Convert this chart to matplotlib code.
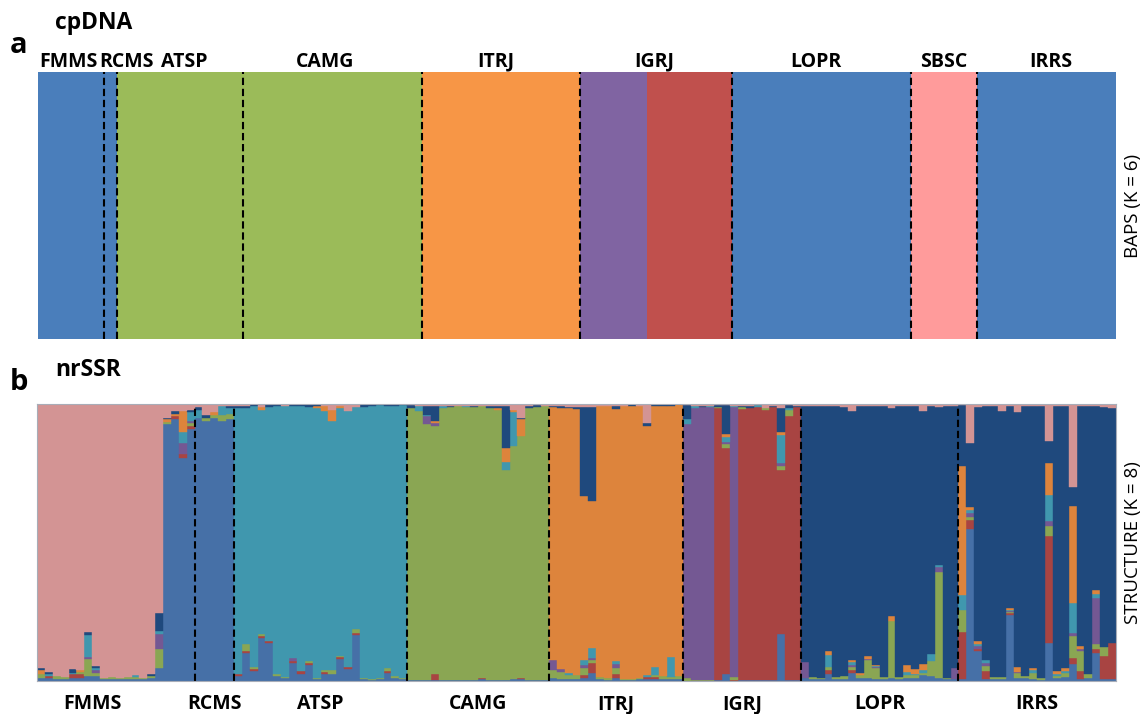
import numpy as np
import matplotlib.pyplot as plt

plt.rcParams['font.family'] = ['Open Sans', 'DejaVu Sans']

# ---------------- panel a: cpDNA, BAPS (K = 6) ----------------
a_pops = ['FMMS', 'RCMS', 'ATSP', 'CAMG', 'ITRJ', 'IGRJ', 'LOPR', 'SBSC', 'IRRS']
a_sizes = [10, 2, 19, 27, 24, 23, 27, 10, 21]
# runs of individuals sharing one BAPS group, left to right
a_runs = [(10, 'blue'), (2, 'blue'), (19, 'green'), (27, 'green'), (24, 'orange'),
          (10, 'purple'), (13, 'red'), (27, 'blue'), (10, 'pink'), (21, 'blue')]
a_colors = {'blue': '#4A7EBB', 'green': '#9BBB59', 'orange': '#F79646',
            'purple': '#8064A2', 'red': '#C0504D', 'pink': '#FF9B9B'}

# ---------------- panel b: nrSSR, STRUCTURE (K = 8) ----------------
# cluster keys in stacking order (bottom -> top)
order = ['b', 'r', 'g', 'p', 't', 'o', 'n', 'k']
b_colors = {'b': '#4670A7', 'r': '#A84442', 'g': '#8AA653', 'p': '#745893',
            't': '#4097AE', 'o': '#DD843C', 'n': '#1F497D', 'k': '#D39494'}

b_pops = ['FMMS', 'RCMS', 'ATSP', 'CAMG', 'ITRJ', 'IGRJ', 'LOPR', 'IRRS']
# each individual: (main cluster, minor memberships); main gets the rest
FMMS = [
    ('k', {'b': .012, 'g': .012, 'o': .014, 'n': .008}),
    ('k', {'b': .01, 'r': .008, 't': .006, 'n': .01}),
    ('k', {'b': .008, 'g': .01}),
    ('k', {'b': .008, 'g': .008}),
    ('k', {'b': .01, 'r': .014, 't': .006, 'n': .014}),
    ('k', {'b': .012, 'r': .014, 'g': .006, 'o': .008}),
    ('k', {'b': .018, 'g': .06, 'p': .008, 't': .08, 'n': .01}),
    ('k', {'b': .018, 'g': .01, 'p': .012, 't': .006, 'n': .008}),
    ('k', {'b': .006, 'g': .006}),
    ('k', {'b': .006, 'g': .008}),
    ('k', {'b': .006, 'g': .006}),
    ('k', {'b': .008, 'g': .008}),
    ('k', {'b': .006, 'g': .01, 't': .004}),
    ('k', {'b': .006, 'g': .006}),
    ('k', {'b': .01, 'g': .008, 'n': .006}),
    ('k', {'b': .048, 'g': .068, 'p': .054, 't': .012, 'n': .062}),
    ('b', {'g': .008, 'o': .008, 'n': .006, 'k': .05}),
    ('b', {'r': .008, 'o': .01, 'n': .01, 'k': .025}),
    ('b', {'r': .015, 'p': .04, 't': .04, 'o': .075, 'k': .025}),
    ('b', {'r': .012, 'g': .01, 'p': .01, 't': .03, 'n': .01, 'k': .02}),
]
RCMS = [
    ('b', {'n': .008, 't': .03, 'k': .012}),
    ('b', {'g': .01, 'n': .012, 'k': .04}),
    ('b', {'g': .012, 'o': .01, 'k': .03}),
    ('b', {'g': .025, 't': .03, 'k': .008}),
    ('b', {'g': .02, 't': .02, 'n': .01, 'k': .006}),
]
ATSP = [
    ('t', {'b': .018, 'r': .006, 'n': .008, 'k': .006}),
    ('t', {'b': .10, 'r': .008, 'g': .024, 'n': .006, 'k': .008}),
    ('t', {'b': .036, 'r': .006, 'g': .008, 'n': .006}),
    ('t', {'b': .155, 'r': .006, 'g': .01, 'o': .008, 'k': .012}),
    ('t', {'b': .138, 'r': .008, 'n': .012}),
    ('t', {'b': .018, 'g': .008, 'n': .008}),
    ('t', {'b': .01, 'g': .006, 'k': .006}),
    ('t', {'b': .066, 'r': .006, 'p': .01, 'n': .006}),
    ('t', {'b': .026, 'r': .01, 'n': .006}),
    ('t', {'b': .058, 'r': .006, 'g': .008, 'n': .01}),
    ('t', {'b': .006, 'g': .004, 'o': .01, 'n': .006}),
    ('t', {'b': .025, 'r': .008, 'g': .006, 'o': .02, 'k': .006}),
    ('t', {'b': .025, 'g': .015, 'o': .04, 'k': .02}),
    ('t', {'b': .08, 'r': .005, 'g': .006, 'o': .008, 'k': .006}),
    ('t', {'b': .042, 'r': .008, 'k': .025}),
    ('t', {'b': .166, 'r': .008, 'g': .012, 'k': .012}),
    ('t', {'b': .006, 'g': .006, 'n': .012}),
    ('t', {'b': .004, 'g': .004, 'n': .006}),
    ('t', {'b': .006, 'g': .004, 'n': .004}),
    ('t', {'b': .03, 'r': .006, 'g': .01, 'n': .006}),
    ('t', {'b': .012, 'g': .006, 'n': .006}),
    ('t', {'b': .008, 'g': .004, 'n': .004}),
]
CAMG = [
    ('g', {'b': .004, 'n': .012, 'k': .004}),
    ('g', {'b': .004, 't': .02, 'k': .006}),
    ('g', {'b': .004, 'p': .03, 't': .005, 'n': .03, 'k': .008}),
    ('g', {'b': .004, 'r': .02, 'p': .012, 'o': .008, 'n': .055, 'k': .006}),
    ('g', {'b': .004, 't': .006, 'k': .008}),
    ('g', {'b': .004, 'n': .006, 'k': .006}),
    ('g', {'b': .004, 'k': .008}),
    ('g', {'b': .004, 't': .004, 'k': .006}),
    ('g', {'b': .004, 'n': .006, 'k': .006}),
    ('g', {'b': .006, 'r': .004, 'k': .006}),
    ('g', {'b': .004, 'n': .01, 'k': .006}),
    ('g', {'b': .004, 'o': .006, 'n': .008, 'k': .006}),
    ('g', {'b': .004, 't': .03, 'o': .05, 'n': .152, 'k': .008}),
    ('g', {'b': .006, 't': .12, 'o': .01, 'k': .02}),
    ('g', {'b': .006, 'r': .006, 'o': .06, 'n': .006, 'k': .05}),
    ('g', {'b': .004, 'n': .008, 'k': .006}),
    ('g', {'b': .004, 'n': .006, 'k': .004}),
    ('g', {'b': .004, 'k': .006}),
]
ITRJ = [
    ('o', {'b': .01, 'g': .03, 'p': .036, 'n': .006, 'k': .006}),
    ('o', {'b': .008, 'g': .025, 'p': .012, 'n': .008, 'k': .006}),
    ('o', {'b': .008, 'g': .012, 't': .01, 'n': .006, 'k': .01}),
    ('o', {'b': .008, 'g': .012, 'n': .006, 'k': .012}),
    ('o', {'b': .01, 'r': .012, 'g': .025, 'p': .01, 't': .02, 'n': .32, 'k': .012}),
    ('o', {'b': .03, 'r': .036, 'g': .01, 'p': .006, 't': .036, 'n': .34, 'k': .012}),
    ('o', {'b': .006, 'g': .008, 'k': .006}),
    ('o', {'b': .004, 'g': .006, 'k': .006}),
    ('o', {'b': .01, 'r': .015, 'g': .022, 'p': .015, 't': .012, 'n': .012, 'k': .006}),
    ('o', {'b': .004, 'g': .004, 'k': .006}),
    ('o', {'b': .004, 'g': .004, 'n': .006}),
    ('o', {'b': .006, 'g': .004, 'k': .006}),
    ('o', {'b': .006, 'r': .008, 't': .008, 'n': .008, 'k': .07}),
    ('o', {'b': .006, 'r': .01, 'g': .006, 't': .03, 'n': .006}),
    ('o', {'b': .008, 'g': .01, 'n': .006}),
    ('o', {'b': .008, 'g': .008, 't': .07, 'n': .006}),
    ('o', {'b': .006, 'g': .012}),
]
IGRJ = [
    ('p', {'g': .01, 't': .018, 'n': .05, 'k': .004}),
    ('p', {'g': .004, 't': .006, 'k': .008}),
    ('p', {'g': .004, 'n': .006, 'k': .006}),
    ('p', {'g': .004, 't': .004, 'k': .006}),
    ('r', {'b': .004, 'g': .004, 'n': .006, 'k': .004}),
    ('r', {'b': .025, 'g': .015, 'p': .005, 't': .02, 'o': .01, 'n': .105, 'k': .004}),
    ('p', {'r': .004, 'g': .01, 't': .006, 'k': .006}),
    ('r', {'b': .004, 'g': .006, 'n': .006, 'k': .006}),
    ('r', {'b': .004, 'n': .006, 'k': .008}),
    ('r', {'b': .004, 't': .006, 'k': .004}),
    ('r', {'b': .004, 'g': .006, 'k': .015}),
    ('r', {'b': .004, 'n': .006, 'k': .006}),
    ('r', {'b': .17, 'g': .015, 'p': .012, 't': .1, 'o': .012, 'n': .085, 'k': .015}),
    ('r', {'b': .004, 'g': .025, 't': .006, 'n': .01, 'k': .004}),
    ('r', {'b': .004, 'n': .006, 'k': .006}),
]
LOPR = [
    ('n', {'b': .01, 'p': .06, 'k': .006}),
    ('n', {'b': .008, 'g': .006, 'k': .008}),
    ('n', {'b': .006, 'g': .006, 'k': .008}),
    ('n', {'b': .024, 'r': .014, 'g': .012, 't': .045, 'o': .014, 'k': .006}),
    ('n', {'b': .006, 'g': .008, 'k': .008}),
    ('n', {'b': .008, 'g': .01, 'k': .01}),
    ('n', {'b': .03, 'r': .01, 'g': .01, 'p': .008, 't': .012, 'o': .006, 'k': .025}),
    ('n', {'b': .01, 'g': .01, 'o': .008, 'k': .006}),
    ('n', {'b': .01, 'g': .065, 'p': .006, 'o': .01, 'k': .008}),
    ('n', {'b': .006, 'g': .04, 'p': .004, 't': .004, 'o': .004, 'k': .008}),
    ('n', {'b': .006, 'g': .008, 'k': .008}),
    ('n', {'b': .012, 'g': .205, 'o': .018, 'k': .015}),
    ('n', {'b': .006, 'g': .01, 'k': .006}),
    ('n', {'b': .012, 'g': .01, 't': .01, 'o': .025, 'k': .006}),
    ('n', {'b': .012, 'g': .008, 't': .006, 'o': .018, 'k': .008}),
    ('n', {'b': .02, 'g': .008, 't': .012, 'o': .022, 'k': .025}),
    ('n', {'b': .018, 'g': .055, 't': .025, 'k': .006}),
    ('n', {'b': .012, 'g': .38, 'p': .018, 't': .008, 'k': .01}),
    ('n', {'b': .006, 'g': .006, 'k': .006}),
    ('n', {'b': .006, 'p': .04, 'k': .006}),
]
IRRS = [
    ('n', {'b': .008, 'r': .17, 'g': .078, 't': .054, 'o': .465, 'k': .004}),
    ('n', {'b': .55, 'r': .03, 'g': .012, 'p': .015, 't': .01, 'o': .01, 'k': .14}),
    ('n', {'b': .108, 'r': .008, 'p': .01, 't': .006, 'o': .012, 'k': .012}),
    ('n', {'b': .006, 'r': .03, 'g': .018, 'p': .01, 't': .012, 'k': .006}),
    ('n', {'b': .006, 'g': .008, 'k': .006}),
    ('n', {'b': .006, 'g': .008, 'k': .025}),
    ('n', {'b': .24, 'r': .004, 'g': .006, 'p': .004, 't': .004, 'o': .006, 'k': .008}),
    ('n', {'b': .01, 'g': .018, 'p': .006, 'o': .018, 'k': .03}),
    ('n', {'b': .01, 'g': .008, 'k': .008}),
    ('n', {'b': .008, 'g': .02, 't': .012, 'o': .008, 'k': .008}),
    ('n', {'b': .004, 'g': .006, 'k': .006}),
    ('n', {'b': .138, 'r': .385, 'g': .036, 'p': .018, 't': .096, 'o': .114, 'k': .132}),
    ('n', {'b': .01, 'g': .008, 't': .008, 'o': .01, 'k': .006}),
    ('n', {'b': .016, 'g': .012, 't': .008, 'o': .01, 'k': .006}),
    ('n', {'b': .06, 'r': .024, 'g': .078, 'p': .012, 't': .108, 'o': .35, 'k': .3}),
    ('n', {'b': .006, 'r': .03, 'g': .072, 'p': .006, 'o': .012, 'k': .006}),
    ('n', {'b': .012, 'g': .012, 'k': .006}),
    ('n', {'b': .1, 'r': .015, 'g': .018, 'p': .168, 't': .012, 'o': .014, 'k': .008}),
    ('n', {'b': .006, 'r': .085, 'g': .03, 'k': .01}),
    ('n', {'b': .006, 'r': .13, 'k': .015}),
]
b_data = [FMMS, RCMS, ATSP, CAMG, ITRJ, IGRJ, LOPR, IRRS]

# build Q matrix
Q = []
for pop in b_data:
    for main, minor in pop:
        q = [minor.get(c, 0.0) for c in order]
        q[order.index(main)] = 1.0 - sum(q)
        Q.append(q)
Q = np.array(Q)
b_sizes = [len(p) for p in b_data]

fig = plt.figure(figsize=(11.46, 7.14), dpi=100)

# ---- panel a
ax1 = fig.add_axes([0.0332, 0.5252, 0.9407, 0.3740])
left = 0
for n, c in a_runs:
    ax1.bar(left, 1, width=n, align='edge', color=a_colors[c], linewidth=0)
    left += n
ax1.set_xlim(0, sum(a_sizes))
ax1.set_ylim(0, 1)
bounds_a = np.cumsum(a_sizes)[:-1]
for xb in bounds_a:
    ax1.axvline(xb, color='black', lw=1.5, ls=(0, (3.5, 1.8)))
ax1.axis('off')
a_shift = [-0.4, 2.3, 0.6, -1.1, -0.8, -0.3, -0.9, 0, 0.6]
starts = np.concatenate([[0], np.cumsum(a_sizes)[:-1]])
for name, s, n, sh in zip(a_pops, starts, a_sizes, a_shift):
    ax1.text(s + n / 2 + sh, 1.019, name, transform=ax1.get_xaxis_transform(),
             ha='center', va='baseline', fontsize=14, fontweight='bold')

# ---- panel b
ax2 = fig.add_axes([0.0323, 0.0462, 0.9415, 0.3880])
x = np.arange(len(Q))
bottom = np.zeros(len(Q))
for j, c in enumerate(order):
    h = Q[:, j]
    m = h > 0
    ax2.bar(x[m], h[m], bottom=bottom[m], width=1, align='edge',
            color=b_colors[c], edgecolor=b_colors[c], linewidth=0.3)
    bottom += h
ax2.set_xlim(0, len(Q))
ax2.set_ylim(0, 1)
for xb in np.cumsum(b_sizes)[:-1]:
    ax2.axvline(xb, color='black', lw=1.5, ls=(0, (3.5, 1.8)))
ax2.set_xticks([])
ax2.set_yticks([])
for sp in ax2.spines.values():
    sp.set_color('#A8ADB8')
    sp.set_linewidth(0.8)
b_shift = [-3, 0, 0, 0, 0, 0, 0, 0]
starts_b = np.concatenate([[0], np.cumsum(b_sizes)[:-1]])
for name, s, n, sh in zip(b_pops, starts_b, b_sizes, b_shift):
    ax2.text(s + n / 2 + sh, -0.101, name, transform=ax2.get_xaxis_transform(),
             ha='center', va='baseline', fontsize=14, fontweight='bold')

# panel letters and titles
fig.text(0.0087, 0.9258, 'a', fontsize=21, fontweight='bold', va='baseline')
fig.text(0.048, 0.960, 'cpDNA', fontsize=16.5, fontweight='bold', va='baseline')
fig.text(0.0087, 0.4538, 'b', fontsize=21, fontweight='bold', va='baseline')
fig.text(0.048, 0.4734, 'nrSSR', fontsize=16.5, fontweight='bold', va='baseline')
fig.text(0.9887, 0.7122, 'BAPS (K = 6)', rotation=90, ha='center', va='center', fontsize=13.5)
fig.text(0.9887, 0.2402, 'STRUCTURE (K = 8)', rotation=90, ha='center', va='center', fontsize=13.5)

fig.savefig('out.png', dpi=100)
